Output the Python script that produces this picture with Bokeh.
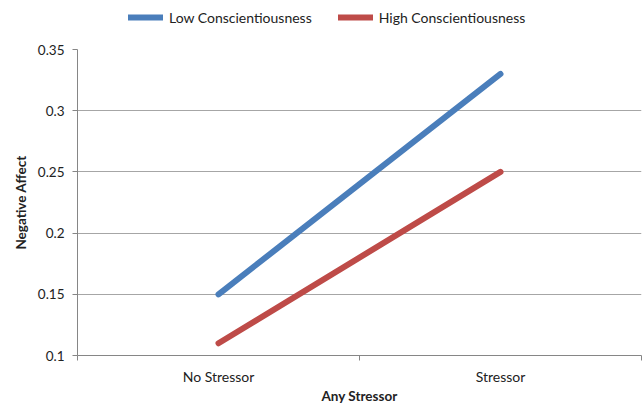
from bokeh.plotting import figure
from bokeh.layouts import column
from bokeh.models import (Range1d, FixedTicker, Legend, LegendItem)
from bokeh.embed import file_html
from bokeh.resources import INLINE

categories = ["No Stressor", "Stressor"]
low_consc = [0.15, 0.33]
high_consc = [0.11, 0.25]
series_values = [low_consc, high_consc]
series_names = ["Low Conscientiousness", "High Conscientiousness"]
series_colors = ["#4A7EBB", "#BE4B48"]
y_ticks = [0.1, 0.15, 0.2, 0.25, 0.3, 0.35]
y_tick_labels = ["0.1", "0.15", "0.2", "0.25", "0.3", "0.35"]

FONT = "Lato"
x_pos = [i + 0.5 for i in range(len(categories))]

p = figure(width=643, height=366, output_backend="svg", toolbar_location=None,
           x_range=Range1d(0, len(categories)), y_range=Range1d(y_ticks[0], y_ticks[-1]),
           min_border_left=77, min_border_right=2, min_border_top=9, min_border_bottom=50)
p.outline_line_color = None
p.background_fill_color = "white"
p.border_fill_color = "white"

for vals, c in zip(series_values, series_colors):
    p.line(x_pos, vals, line_width=6, line_color=c, line_cap="round")

# x axis
xa = p.xaxis[0]
xa.ticker = FixedTicker(ticks=x_pos, minor_ticks=list(range(len(categories) + 1)))
xa.major_label_overrides = {x: c for x, c in zip(x_pos, categories)}
xa.major_tick_out = 0
xa.major_tick_in = 0
xa.minor_tick_out = 5
xa.minor_tick_in = 0
xa.minor_tick_line_color = "#868686"
xa.axis_line_color = "#868686"
xa.major_label_text_font = FONT
xa.major_label_text_font_size = "14px"
xa.major_label_text_color = "#222222"
xa.major_label_standoff = 7
xa.axis_label = "Any Stressor"
xa.axis_label_text_font = FONT
xa.axis_label_text_font_style = "bold"
xa.axis_label_text_font_size = "13.5px"
xa.axis_label_text_color = "#222222"
xa.axis_label_standoff = 0

# y axis
ya = p.yaxis[0]
ya.ticker = FixedTicker(ticks=y_ticks, minor_ticks=[])
ya.major_label_overrides = {t: l for t, l in zip(y_ticks, y_tick_labels)}
ya.major_tick_out = 5
ya.major_tick_in = 0
ya.major_tick_line_color = "#868686"
ya.axis_line_color = "#868686"
ya.major_label_text_font = FONT
ya.major_label_text_font_size = "13.5px"
ya.major_label_text_color = "#222222"
ya.major_label_standoff = 8
ya.axis_label = "Negative Affect"
ya.axis_label_text_font = FONT
ya.axis_label_text_font_style = "bold"
ya.axis_label_text_font_size = "13.5px"
ya.axis_label_text_color = "#222222"
ya.axis_label_standoff = 6

p.xgrid.grid_line_color = None
p.ygrid.ticker = FixedTicker(ticks=y_ticks)
p.ygrid.grid_line_color = "#a6a6a6"
p.ygrid.grid_line_width = 1

# legend strip above the plot
lf = figure(width=643, height=40, output_backend="svg", toolbar_location=None,
            x_axis_type=None, y_axis_type=None,
            x_range=Range1d(0, 1), y_range=Range1d(0, 1),
            min_border_left=0, min_border_right=0, min_border_top=0, min_border_bottom=0)
lf.outline_line_color = None
lf.grid.visible = False
swatches = [lf.line(x_pos, vals, line_width=6, line_color=c, line_cap="round", visible=False)
            for vals, c in zip(series_values, series_colors)]

legend = Legend(items=[LegendItem(label=n, renderers=[r]) for n, r in zip(series_names, swatches)],
                orientation="horizontal", location=(51, 13),
                padding=0, margin=0, spacing=26, label_standoff=6,
                glyph_width=35, glyph_height=20, label_height=20,
                label_text_font=FONT, label_text_font_size="14px",
                label_text_color="#222222", inactive_fill_alpha=0,
                border_line_color=None, background_fill_alpha=0)
lf.add_layout(legend, "center")

layout = column(lf, p, spacing=0)
open("out.html", "w").write(file_html(layout, INLINE))
